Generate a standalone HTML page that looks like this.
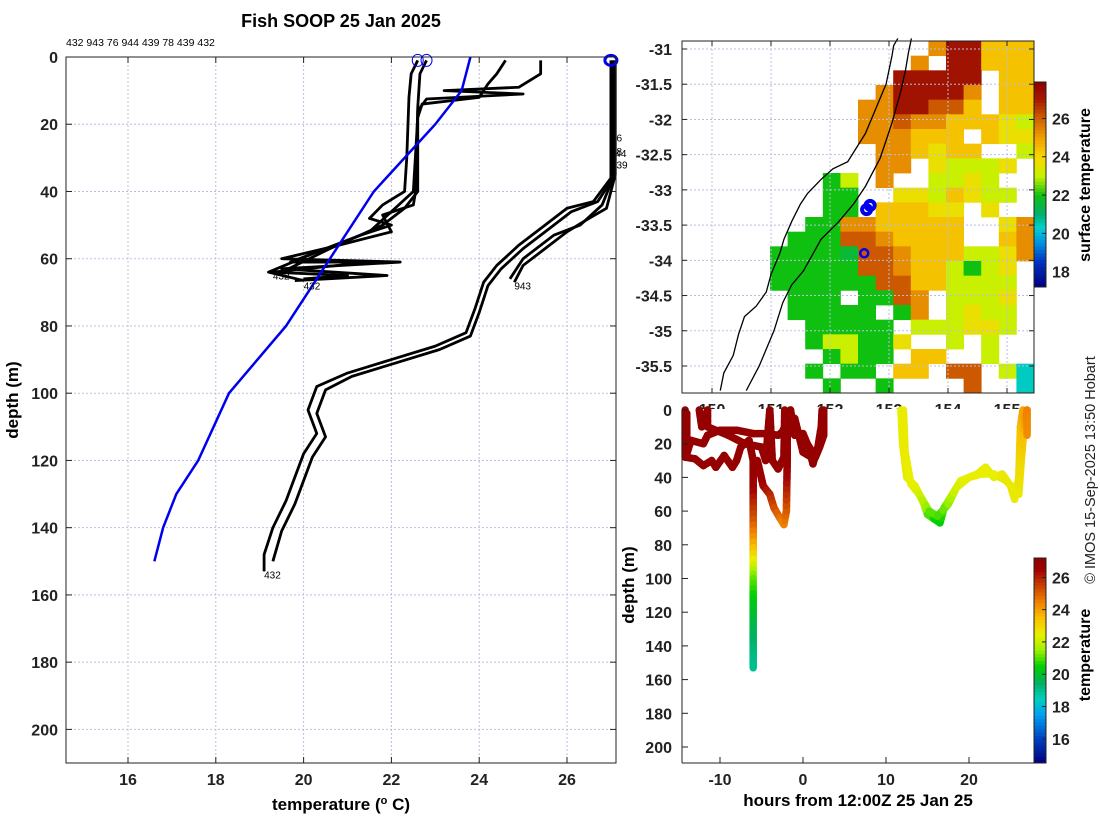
<!DOCTYPE html>
<html><head><meta charset="utf-8"><style>
html,body{margin:0;padding:0;background:#fff;}
svg{display:block;font-family:"Liberation Sans",sans-serif;}
.tk{font-weight:bold;font-size:16px;fill:#222;}
</style></head><body>
<svg id="root" width="1100" height="820" viewBox="0 0 1100 820">
<rect width="1100" height="820" fill="#fff"/>
<text x="341" y="27" text-anchor="middle" font-weight="bold" font-size="18">Fish SOOP 25 Jan 2025</text>
<text x="66" y="46" font-size="10.5">432 943 76 944 439 78 439 432</text>
<g id="map"></g>
<g id="left"></g>
<g id="bot"></g>
<text transform="translate(1095,470) rotate(-90)" text-anchor="middle" font-size="14.5" fill="#222">© IMOS 15-Sep-2025 13:50 Hobart</text>
</svg>
<script>
// ---------- LEFT PROFILE DATA ----------
const tempTicks=[16,18,20,22,24,26];
const depthTicks=[0,20,40,60,80,100,120,140,160,180,200];
const climTemp=[23.8,23.7,23.6,23.0,22.3,21.6,20.6,19.6,18.3,17.6,17.1,16.8,16.6];
const climDepth=[0,5,10,20,30,40,60,80,100,120,130,140,150];
const prof1=[[22.6,1],[22.45,5],[22.4,12],[22.35,30],[22.3,40],[21.8,44],[21.5,48],[22.0,50],[21.3,53],[20.5,57],[19.7,61],[21.5,61],[19.3,64],[21.0,65],[20.0,66]];
const prof2=[[22.8,1],[22.65,5],[22.6,15],[22.55,40],[22.5,44],[21.8,47],[22.0,52],[20.8,56],[19.5,60],[22.2,61],[19.5,63],[21.9,65],[19.8,66.5]];
const prof3=[[24.6,1],[24.4,5],[24.2,8],[24.0,12],[22.7,14],[22.6,18],[22.5,40],[22.0,46],[21.5,52],[20.3,58],[19.2,64],[20.0,66.5]];
const prof4=[[25.4,1],[25.4,5],[24.9,9],[23.2,10],[25.0,11],[22.8,12.5],[22.6,16],[22.6,40],[22.3,45],[21.8,50],[20.6,57],[19.5,64]];
const prof5=[[27.0,1],[27.0,30],[27.0,36],[26.6,43],[26.0,45],[25.5,50],[24.9,56],[24.4,62],[24.1,67],[23.9,75],[23.7,82],[23.0,86],[22.0,90],[21.0,94],[20.3,98],[20.1,105],[20.3,112],[20.0,118],[19.8,125],[19.6,132],[19.3,140],[19.1,148],[19.1,153]];
const prof6=[[27.05,1],[27.05,30],[27.0,37],[26.7,43],[26.1,46],[25.6,51],[25.0,57],[24.5,63],[24.2,68],[24.0,76],[23.8,83],[23.1,87],[22.1,91],[21.1,95],[20.5,99],[20.3,106],[20.5,113],[20.2,119],[20.0,126],[19.8,133],[19.5,141],[19.3,150]];
const prof7=[[27.1,1],[27.1,35],[26.9,45],[26.5,48],[26.0,52],[25.5,57],[25.0,62],[24.8,67]];
const prof8=[[27.05,1],[27.05,36],[26.8,44],[26.3,50],[25.7,53],[25.0,60],[24.7,66]];
const profLabels=[["432",19.1,154],["943",24.8,68],["432",20.0,68],["432",19.3,65],["76",27.0,24],["78",27.0,28],["44",27.1,28.5],["439",27.0,32]];
const surfMarks=[[22.6,1],[22.8,1]];
// ---------- MAP DATA ----------
const lonTicks=[150,151,152,153,154,155];
const latTicks=[-31,-31.5,-32,-32.5,-33,-33.5,-34,-34.5,-35,-35.5];
const sstCodeTemp={R:27.2,O:26.1,o:25.3,Y:24.4,y:23.7,L:23.0,G:22.0,g:21.6,T:20.4};
const sstRows=[
"..............oRRYYY",
".............o.RRYYY",
"............RRRRR.YY",
"...........oRRRRo.YY",
"..........ooRROOY.YY",
"..........ooOooYYYyL",
"..........oooYYY.Yyy",
"...........ooYyYY..L",
"...........oo.yLLLy.",
"........GL.o..LLyL..",
"........GG..yyLYyLL.",
"........GG.YYYyy.y..",
".......GGooYYYYY..yo",
"......GGGOOoYYYY..Yo",
".....GGGGgOOoYYYLLyo",
".....GGGGGOOoYYLGLy.",
".....GGGGGGOOYYLLLL.",
"......GGG.GGOo.LLLy.",
"......GGGGG.Go.LyLL.",
".......GGGGG.LLLyyL.",
".......GLLGGy..L.L..",
"........GLGG.YY..L..",
".......G.GG.YY.OO.LT",
"........G..G....O..T"];
const coastLon=[150.14,150.2,150.36,150.45,150.55,150.75,150.92,151.0,151.15,151.22,151.35,151.5,151.62,151.85,152.05,152.3,152.45,152.6,152.75,152.85,152.95,153.0,153.05,153.08,153.15];
const coastLat=[-35.85,-35.6,-35.35,-35.05,-34.8,-34.65,-34.45,-34.2,-33.9,-33.7,-33.45,-33.2,-33.05,-32.85,-32.7,-32.6,-32.4,-32.2,-31.9,-31.7,-31.5,-31.3,-31.1,-30.95,-30.85];
const shelfLon=[150.58,150.8,151.05,151.2,151.35,151.55,151.85,152.15,152.4,152.6,152.85,153.05,153.2,153.28,153.33,153.38];
const shelfLat=[-35.85,-35.5,-35.0,-34.6,-34.35,-34.15,-33.7,-33.45,-33.2,-32.95,-32.55,-32.05,-31.6,-31.3,-31.05,-30.85];
const shipLon=[152.62,152.68,152.58];
const shipLat=[-33.28,-33.22,-33.9];
const sstCbTicks=[18,20,22,24,26];
// ---------- DEPTH-TIME DATA ----------
const hourTicks=[-10,0,10,20];
const botDepthTicks=[0,20,40,60,80,100,120,140,160,180,200];
const cbTicks=[16,18,20,22,24,26];
const trackA=[[-14.2,0,27],[-14.2,28,27],[-13,29,27],[-12,33,27],[-11,30,27],[-10.5,34,27],[-9.5,27,27],[-8.5,34,27],[-8,30,27],[-7.5,22,27],[-6.5,18,27],[-6,30,27],[-6,45,26.8],[-6,55,26],[-6,65,25.3],[-6,75,24.4],[-6,85,23.3],[-6,92,22.3],[-6,100,21.2],[-6,115,20.3],[-6,130,19.7],[-6,145,19.2],[-6,153,19.0]];
const trackB=[[-14,2,27],[-14,26,27],[-13.5,18,27],[-12,20,27],[-11.5,15,27],[-10,12,27],[-8,12,27],[-6,14,27],[-4.5,14,27],[-3,15,27],[-2.5,13,27],[-2,8,27],[-1.5,0,27],[-1,15,27],[0,14,27],[0.5,20,27],[1.5,28,27],[2,22,27],[2.5,15,27],[2.5,0,27]];
const trackC=[[-12.5,0,27],[-12.2,10,27],[-11.5,0,27],[-11.5,10,27],[-9,15,27],[-7,20,27],[-5,22,27],[-4.5,30,27],[-4,0,27],[-3.7,30,27],[-3,35,27],[-2.3,28,27],[-2.2,0,27]];
const trackD=[[-5.5,30,27],[-4.8,45,26.5],[-4,50,26],[-3.5,58,25.4],[-2.8,64,24.8],[-2.3,68,24.4],[-2,60,25],[-1.9,30,27],[-1.9,10,27],[-1,5,27],[0,25,27],[1,28,27],[1.2,32,27],[1.8,22,27],[2.2,10,27],[2.3,0,27]];
const trackE=[[11.8,0,22.5],[12,20,22.6],[12.5,40,22.7],[13.5,45,22.5],[14.5,55,22.2],[15,62,21.2],[16.5,67,20.3],[17,58,21],[18,50,22],[19,42,22.4],[21,38,22.6],[22,34,22.6],[23,40,22.3],[24,38,22.6],[25,45,22.8],[25.5,53,22.6],[26,40,22.8],[26.2,10,23.5],[26.5,0,24]];
const trackF=[[12.1,0,22.6],[12.3,25,22.6],[13,44,22.5],[14,50,22.3],[15.2,60,21.3],[16.2,63,20.8],[17.5,56,21.3],[18.5,46,22.2],[20,40,22.5],[21.5,38,22.6],[23,38,22.4],[24.5,42,22.7],[26,50,22.6],[26.3,30,23],[26.6,12,23.6],[27,0,24.5],[27,15,24.3]];

const NS='http://www.w3.org/2000/svg';
function mk(parent,tag,attrs){const e=document.createElementNS(NS,tag);for(const k in attrs)e.setAttribute(k,attrs[k]);parent.appendChild(e);return e;}
function lerpColor(stops,t){
  if(t<=stops[0][0])return stops[0][1];
  for(let i=1;i<stops.length;i++){if(t<=stops[i][0]){const a=stops[i-1],b=stops[i];const f=(t-a[0])/(b[0]-a[0]);
    const ca=[1,3,5].map(j=>parseInt(a[1].substr(j,2),16)),cb=[1,3,5].map(j=>parseInt(b[1].substr(j,2),16));
    return 'rgb('+ca.map((v,j)=>Math.round(v+(cb[j]-v)*f)).join(',')+')';}}
  return stops[stops.length-1][1];}
const mapStops=[[17.2,'#00007f'],[18.5,'#0030c0'],[19.5,'#0090e0'],[20.3,'#00d0d0'],[21,'#00b070'],[22,'#10c010'],[23,'#c8f000'],[24,'#f8d800'],[25,'#f0a000'],[26,'#d06000'],[27,'#a51800'],[27.9,'#900000']];
const botStops=[[14.5,'#00007f'],[16,'#0040c0'],[17.5,'#00a0f0'],[18.5,'#00d0c0'],[19.5,'#00b060'],[20.5,'#00d000'],[21.5,'#a0f000'],[22.5,'#e8f000'],[23.5,'#f8c000'],[24.5,'#f08000'],[25.5,'#c84000'],[26.5,'#a00000'],[27.2,'#900000']];

// ---------- LEFT ----------
(function(){
const g=document.getElementById('left');
const L=66,R=616,T=57,B=763;
const x=t=>128+(t-16)*43.9, y=d=>T+d*3.362;
mk(g,'rect',{x:L,y:T,width:R-L,height:B-T,fill:'#fff'});
tempTicks.forEach(t=>{const l=mk(g,'line',{x1:x(t),x2:x(t),y1:T,y2:B,stroke:'#b8c0e0','stroke-dasharray':'2,2','stroke-width':1});
  const tx=mk(g,'text',{x:x(t),y:B+22,'text-anchor':'middle',class:'tk'});tx.textContent=t;
  mk(g,'line',{x1:x(t),x2:x(t),y1:B,y2:B-6,stroke:'#222'});mk(g,'line',{x1:x(t),x2:x(t),y1:T,y2:T+6,stroke:'#222'});});
depthTicks.forEach(d=>{if(d>0){const l=mk(g,'line',{x1:L,x2:R,y1:y(d),y2:y(d),stroke:'#b8c0e0','stroke-dasharray':'2,2'});}
  const tx=mk(g,'text',{x:L-8,y:y(d)+6,'text-anchor':'end',class:'tk'});tx.textContent=d;
  mk(g,'line',{x1:L,x2:L+6,y1:y(d),y2:y(d),stroke:'#222'});mk(g,'line',{x1:R,x2:R-6,y1:y(d),y2:y(d),stroke:'#222'});});
[prof1,prof2,prof3,prof4,prof5,prof6,prof7,prof8].forEach((p,i)=>{
  const pl=mk(g,'polyline',{points:p.map(q=>x(q[0])+','+y(q[1])).join(' '),fill:'none',stroke:'#000','stroke-width':2.8,'stroke-linejoin':'round'});
  });
const cl=mk(g,'polyline',{points:climTemp.map((t,i)=>x(t)+','+y(climDepth[i])).join(' '),fill:'none',stroke:'#0000ee','stroke-width':2.5});

profLabels.forEach(a=>{const tx=mk(g,'text',{x:x(a[1]),y:y(a[2])+4,'font-size':10});tx.textContent=a[0];});
surfMarks.forEach(m=>{const c=mk(g,'ellipse',{cx:x(m[0]),cy:y(m[1]),rx:5.5,ry:6,fill:'none',stroke:'#0000ee','stroke-width':1});});
const bm=mk(g,'ellipse',{cx:x(27.0),cy:y(1),rx:6,ry:5,fill:'none',stroke:'#0000ee','stroke-width':3});
mk(g,'rect',{x:L,y:T,width:R-L,height:B-T,fill:'none',stroke:'#222','stroke-width':1});
const xl=mk(g,'text',{x:341,y:810,'text-anchor':'middle','font-weight':'bold','font-size':17});xl.innerHTML='temperature (<tspan baseline-shift="super" font-size="11">o</tspan> C)';
const yl=mk(g,'text',{transform:'translate(18,400) rotate(-90)','text-anchor':'middle','font-weight':'bold','font-size':17});yl.textContent='depth (m)';
})();

// ---------- MAP ----------
(function(){
const g=document.getElementById('map');
const L=682,R=1034,T=41,B=393;
const x=lo=>712+(lo-150)*59, y=la=>49+(-31-la)*70.44;
mk(g,'rect',{x:L,y:T,width:R-L,height:B-T,fill:'#fff'});
const cw=(R-L)/20,ch=(B-T)/24;
sstRows.forEach((row,r)=>{for(let c=0;c<row.length;c++){const k=row[c];if(k==='.')continue;const t=sstCodeTemp[k];
  const rc=mk(g,'rect',{x:L+c*cw,y:T+r*ch,width:cw+0.4,height:ch+0.4,fill:lerpColor(mapStops,t)});
  }});
lonTicks.forEach(lo=>{const l=mk(g,'line',{x1:x(lo),x2:x(lo),y1:T,y2:B,stroke:'#b8c0e0','stroke-dasharray':'2,2'});
  mk(g,'line',{x1:x(lo),x2:x(lo),y1:T,y2:T+5,stroke:'#222'});mk(g,'line',{x1:x(lo),x2:x(lo),y1:B,y2:B-5,stroke:'#222'});
  const tx=mk(g,'text',{x:x(lo),y:B+22,'text-anchor':'middle',class:'tk'});tx.textContent=lo;});
latTicks.forEach(la=>{const l=mk(g,'line',{x1:L,x2:R,y1:y(la),y2:y(la),stroke:'#b8c0e0','stroke-dasharray':'2,2'});
  mk(g,'line',{x1:L,x2:L+5,y1:y(la),y2:y(la),stroke:'#222'});mk(g,'line',{x1:R,x2:R-5,y1:y(la),y2:y(la),stroke:'#222'});
  const tx=mk(g,'text',{x:L-10,y:y(la)+6,'text-anchor':'end',class:'tk'});tx.textContent=la;});
const cst=mk(g,'polyline',{points:coastLon.map((lo,i)=>x(lo)+','+y(coastLat[i])).join(' '),fill:'none',stroke:'#000','stroke-width':1.3});
const sh=mk(g,'polyline',{points:shelfLon.map((lo,i)=>x(lo)+','+y(shelfLat[i])).join(' '),fill:'none',stroke:'#000','stroke-width':1.3});
shipLon.forEach((lo,i)=>{const c=mk(g,'circle',{cx:x(lo),cy:y(shipLat[i]),r:i<2?4.5:4,fill:'none',stroke:'#0000ee','stroke-width':i<2?4:2.5});});
mk(g,'rect',{x:L,y:T,width:R-L,height:B-T,fill:'none',stroke:'#222'});
const cbT=82,cbB=287,tmin=17.2,tmax=27.9;const cy=t=>cbB-(t-tmin)/(tmax-tmin)*(cbB-cbT);
for(let i=0;i<60;i++){const t0=tmin+(tmax-tmin)*i/60;const r=mk(g,'rect',{x:1034,y:cy(t0+(tmax-tmin)/60),width:12,height:(cbB-cbT)/60+0.5,fill:lerpColor(mapStops,t0+0.09)});}
mk(g,'rect',{x:1034,y:cbT,width:12,height:cbB-cbT,fill:'none',stroke:'#222'});
sstCbTicks.forEach(t=>{mk(g,'line',{x1:1046,x2:1042,y1:cy(t),y2:cy(t),stroke:'#222'});const tx=mk(g,'text',{x:1052,y:cy(t)+6,class:'tk'});tx.textContent=t;});
const lb=mk(g,'text',{transform:'translate(1090,185) rotate(-90)','text-anchor':'middle','font-weight':'bold','font-size':16});lb.textContent='surface temperature';
})();

// ---------- BOTTOM ----------
(function(){
const g=document.getElementById('bot');
const L=682,R=1034,T=410,B=763;
const x=h=>803+h*8.3, y=d=>T+d*1.685;
mk(g,'rect',{x:L,y:T-1,width:R-L,height:B-T+1,fill:'#fff'});
[trackA,trackB,trackC,trackD,trackE,trackF].forEach((tr,k)=>{
  for(let i=1;i<tr.length;i++){const a=tr[i-1],b=tr[i];const n=Math.max(1,Math.ceil(Math.abs(y(b[1])-y(a[1]))/6));
    for(let j=0;j<n;j++){const f0=j/n,f1=(j+1)/n;const ln=mk(g,'line',{x1:x(a[0]+(b[0]-a[0])*f0),y1:y(a[1]+(b[1]-a[1])*f0),x2:x(a[0]+(b[0]-a[0])*f1),y2:y(a[1]+(b[1]-a[1])*f1),stroke:lerpColor(botStops,a[2]+(b[2]-a[2])*(f0+f1)/2),'stroke-width':7.5,'stroke-linecap':'round'});
    }}});
hourTicks.forEach(h=>{mk(g,'line',{x1:x(h),x2:x(h),y1:B,y2:B-6,stroke:'#222'});const tx=mk(g,'text',{x:x(h),y:B+22,'text-anchor':'middle',class:'tk'});tx.textContent=h;});
botDepthTicks.forEach(d=>{mk(g,'line',{x1:L,x2:L+6,y1:y(d),y2:y(d),stroke:'#222'});const tx=mk(g,'text',{x:L-10,y:y(d)+6,'text-anchor':'end',class:'tk'});tx.textContent=d;});
mk(g,'line',{x1:L,x2:L,y1:T,y2:B,stroke:'#222'});mk(g,'line',{x1:L,x2:R,y1:B,y2:B,stroke:'#222'});
const xl=mk(g,'text',{x:858,y:806,'text-anchor':'middle','font-weight':'bold','font-size':17});xl.textContent='hours from 12:00Z 25 Jan 25';
const yl=mk(g,'text',{transform:'translate(634,585) rotate(-90)','text-anchor':'middle','font-weight':'bold','font-size':17});yl.textContent='depth (m)';
const cbT=558,cbB=763,tmin=14.5,tmax=27.2;const cy=t=>cbB-(t-tmin)/(tmax-tmin)*(cbB-cbT);
for(let i=0;i<60;i++){const t0=tmin+(tmax-tmin)*i/60;const r=mk(g,'rect',{x:1034,y:cy(t0+(tmax-tmin)/60),width:12,height:(cbB-cbT)/60+0.5,fill:lerpColor(botStops,t0+0.1)});}
mk(g,'rect',{x:1034,y:cbT,width:12,height:cbB-cbT,fill:'none',stroke:'#222'});
cbTicks.forEach(t=>{mk(g,'line',{x1:1046,x2:1042,y1:cy(t),y2:cy(t),stroke:'#222'});const tx=mk(g,'text',{x:1052,y:cy(t)+6,class:'tk'});tx.textContent=t;});
const lb=mk(g,'text',{transform:'translate(1090,655) rotate(-90)','text-anchor':'middle','font-weight':'bold','font-size':16});lb.textContent='temperature';
})();
</script>
</body></html>
